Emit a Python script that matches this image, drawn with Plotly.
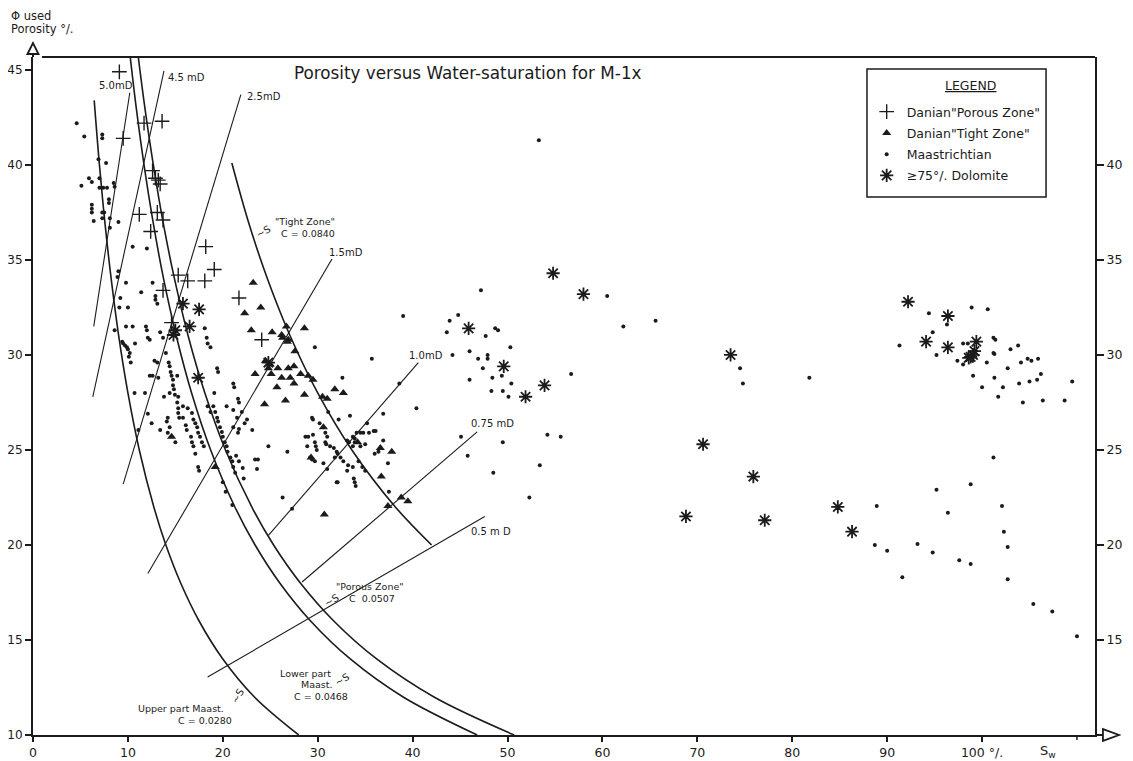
import plotly.graph_objects as go

# ---------------- data ----------------
porous_sw = [9.1, 9.5, 11.7, 13.6, 12.6, 12.9, 13.2, 13.4, 11.2, 13.1, 13.7, 12.4, 18.2, 19.1,
             15.3, 16.3, 18.1, 13.7, 21.7, 14.6, 24.1]
porous_phi = [44.9, 41.4, 42.2, 42.3, 39.7, 39.3, 39.2, 39.0, 37.4, 37.5, 37.1, 36.5, 35.7, 34.5,
              34.2, 33.9, 33.9, 33.4, 33.0, 31.7, 30.8]

tight_sw = [23.2, 24.0, 22.3, 23.0, 25.2, 26.7, 26.2, 28.6, 26.9, 27.6, 24.5, 25.0, 24.8, 25.8,
            26.9, 27.5, 23.4, 25.1, 26.2, 27.1, 27.5, 28.2, 29.0, 29.5, 25.7, 28.6, 26.6, 24.4,
            30.5, 31.0, 31.8, 32.7, 30.6, 34.2, 29.3, 19.2, 36.6, 37.8, 36.7, 38.8, 39.5, 30.7,
            37.4, 14.6, 26.3, 26.8]
tight_phi = [33.8, 32.5, 32.2, 31.3, 31.2, 31.5, 31.05, 31.4, 30.8, 30.2, 29.7, 29.5, 29.3, 29.3,
             29.3, 29.4, 29.0, 29.0, 28.8, 28.8, 28.5, 29.0, 28.9, 28.7, 28.3, 27.9, 27.6, 27.4,
             27.8, 27.7, 28.2, 28.0, 26.2, 25.4, 24.6, 24.1, 25.1, 24.9, 23.6, 22.5, 22.3, 21.6,
             22.05, 25.7, 30.9, 30.7]

dolo_sw = [15.8, 17.5, 16.5, 15.0, 14.8, 17.4, 24.8, 54.8, 58.0, 45.9, 49.6, 53.9, 51.9, 68.8,
           70.6, 73.5, 75.9, 77.1, 84.8, 86.3, 92.2, 96.4, 94.1, 96.4, 99.4, 99.2, 99.05, 98.8, 98.6]
dolo_phi = [32.7, 32.4, 31.5, 31.3, 31.05, 28.8, 29.6, 34.3, 33.2, 31.4, 29.4, 28.4, 27.8, 21.5,
            25.3, 30.0, 23.6, 21.3, 22.0, 20.7, 32.8, 32.05, 30.7, 30.4, 30.7, 30.2, 30.0, 29.9, 29.85]

maast_sw = [
    4.6, 5.4, 7.3, 7.3, 6.9, 7.7, 5.1, 5.9, 6.2, 7.0, 7.0, 7.4, 7.8, 8.5, 8.6, 6.2, 6.2, 6.2, 8.0, 8.0,
    7.3, 7.5, 6.4, 7.3, 8.1, 8.1, 9.0,
    10.5, 12.0, 9.0, 8.9, 9.8, 12.6, 11.4, 12.9, 12.9, 13.1, 9.2, 9.1, 10.0, 8.6, 9.8, 10.5, 11.9,
    12.0, 12.1, 12.3, 13.4, 13.7, 9.4, 9.5, 9.7, 9.9, 10.0, 10.2, 10.1, 10.3, 10.75, 14.0, 12.8, 13.1,
    14.3, 14.4, 14.5, 14.6, 14.75, 14.75, 14.85, 14.95, 15.3, 15.2, 15.3, 15.3, 15.4,
    12.3, 12.6, 13.2, 15.2, 19.4, 19.5, 18.1, 18.3, 18.4, 18.7, 21.1, 21.2, 10.7, 11.8, 13.8, 14.4,
    14.2, 14.1, 14.4, 13.4, 12.5, 11.1, 12.1, 14.2, 15.0, 15.8, 16.1, 16.2, 16.65, 16.75, 16.9, 17.1,
    17.4, 17.5,
    15.8, 16.3, 16.75, 16.9, 17.1, 17.3, 17.4, 17.6, 17.8, 18.0,
    19.0, 19.2, 19.4, 19.5, 19.7, 19.9, 20.0, 20.2, 20.4, 20.5, 20.8, 21.0, 21.1, 21.3,
    20.0, 20.3, 21.0, 21.4, 21.7, 22.1, 22.2, 21.7, 23.1, 22.55, 22.3, 19.1, 20.4, 21.1, 22.0, 21.5,
    18.4, 18.7, 21.6, 21.7, 21.1, 21.6, 24.8, 23.4, 23.7, 23.6, 26.8,
    29.7, 35.7, 32.6, 33.4, 29.4, 29.5, 30.2, 30.6, 30.8, 31.0, 31.1, 28.7, 29.0, 29.7, 29.8, 29.9,
    30.8, 30.9, 28.9, 29.2, 29.4, 29.7, 31.3, 31.7, 32.0, 32.1, 32.4, 33.1, 33.3, 34.1, 34.5, 34.8,
    33.7, 33.9, 33.9, 33.7, 34.5, 35.0, 31.8, 32.7, 33.2, 33.7, 34.3, 33.1, 33.8, 33.9, 31.0, 30.6,
    34.7, 35.0, 36.4, 32.2, 36.9, 40.4, 38.6, 39.0, 35.2, 35.4, 35.9, 36.1, 36.9, 36.0, 26.3, 27.3,
    32.0, 34.0, 37.5, 29.5, 37.4, 32.1,
    47.2, 44.8, 43.9, 43.6, 44.2, 46.0, 46.9, 47.9, 47.9, 48.7, 49.0, 47.7, 50.3, 47.4, 48.4, 49.4,
    46.0, 50.4, 48.3, 49.5, 50.1, 45.8, 45.1, 49.5, 48.5, 53.4, 52.3, 54.2, 55.6, 56.7, 60.5, 62.2,
    65.6, 53.3, 74.5, 74.8, 81.8,
    94.4, 98.9, 100.6, 96.3, 94.8, 91.3, 95.2, 98.0, 98.5, 101.2, 101.4, 101.2, 101.3, 97.4, 98.0,
    100.5, 103.0, 103.8, 102.7, 104.1, 104.8, 105.2, 105.9, 99.05, 101.3, 106.2, 100.0, 102.2, 103.9,
    105.0, 105.8, 109.5, 101.7, 104.3, 106.4, 108.7, 101.2, 98.8, 95.2, 88.9, 96.4, 102.1, 102.3,
    102.7, 88.7, 90.0, 93.2, 94.8, 97.6, 98.8, 91.6, 102.7, 105.4, 107.4, 110.0]
maast_phi = [
    42.2, 41.5, 41.6, 41.4, 40.3, 40.1, 38.9, 39.3, 39.1, 39.3, 38.8, 38.8, 38.8, 39.05, 38.85, 37.9,
    37.7, 37.5, 38.2, 38.0, 37.5, 37.5, 37.05, 37.2, 37.2, 36.7, 37.0,
    35.7, 35.6, 34.4, 34.1, 33.8, 33.8, 33.3, 33.1, 32.9, 32.7, 33.0, 32.5, 32.5, 31.3, 31.5, 31.5,
    31.5, 31.3, 30.9, 30.8, 31.2, 30.9, 30.7, 30.6, 30.5, 30.4, 30.3, 30.1, 29.9, 29.6, 30.6, 30.1,
    29.7, 29.6,
    29.6, 29.4, 29.1, 28.9, 28.7, 28.4, 28.2, 27.9, 27.8, 27.5, 27.2, 26.95, 26.7,
    28.9, 28.9, 28.8, 28.9, 29.3, 29.1, 31.4, 30.9, 30.6, 30.4, 28.5, 28.3, 28.0, 28.0, 27.8, 28.0,
    26.7, 26.5, 26.2, 26.05, 26.4, 26.05, 26.9, 25.9, 25.4, 26.7, 26.3, 26.05, 25.7, 25.4, 25.2, 24.8,
    24.1, 23.9,
    27.3, 27.2, 26.95, 26.6, 26.4, 26.2, 25.9, 25.7, 25.4, 25.2,
    27.3, 27.0, 26.7, 26.5, 26.2, 25.95, 25.7, 25.4, 25.2, 24.9, 24.6, 24.4, 24.1, 23.8,
    23.3, 22.8, 22.1, 24.7, 24.4, 24.05, 23.5, 26.1, 26.05, 26.6, 26.4, 28.0, 27.3, 27.1, 27.0, 26.7,
    27.3, 27.0, 27.7, 27.5, 26.2, 25.9, 25.2, 24.5, 24.5, 24.0, 24.9,
    30.4, 29.8, 28.8, 26.8, 26.7, 26.6, 26.4, 26.2, 25.9, 25.7, 27.0, 25.7, 25.7, 25.4, 25.2, 25.0,
    25.4, 25.3, 25.2, 24.6, 24.5, 24.4, 25.2, 25.1, 24.9, 24.8, 24.6, 25.5, 25.4, 25.9, 25.9, 25.9,
    25.7, 25.6, 25.4, 25.2, 25.2, 25.3, 24.6, 24.4, 24.2, 24.1, 24.4, 23.9, 23.5, 23.3, 24.0, 24.3,
    24.1, 23.9, 24.9, 26.6, 26.9, 27.2, 28.5, 32.05, 26.4, 25.9, 26.0, 26.0, 25.5, 24.8, 22.5, 21.9,
    23.3, 23.1, 22.8, 25.8, 24.3, 23.3,
    33.4, 32.1, 31.8, 31.2, 30.0, 30.2, 29.8, 30.0, 29.8, 31.4, 31.3, 31.0, 30.4, 29.3, 28.8, 28.9,
    28.7, 28.5, 28.1, 28.1, 27.8, 24.7, 25.7, 25.4, 23.8, 24.2, 22.5, 25.8, 25.7, 29.0, 33.1, 31.5,
    31.8, 41.3, 29.3, 28.5, 28.8,
    32.2, 32.5, 32.4, 31.6, 31.2, 30.5, 30.0, 30.6, 30.6, 30.9, 30.8, 30.1, 30.05, 29.7, 29.5,
    29.6, 30.3, 30.5, 29.3, 29.6, 29.8, 29.7, 29.8, 28.9, 28.8, 29.0, 28.3, 28.3, 28.5,
    28.6, 28.7, 28.6, 27.8, 27.5, 27.6, 27.6, 24.6, 23.2, 22.9, 22.05, 21.7, 22.05, 20.7,
    19.9, 20.0, 19.7, 20.05, 19.6, 19.2, 19.0, 18.3, 18.2, 16.9, 16.5, 15.2]

# saturation-porosity curves
upper_sw = [6.45, 7.0, 7.57, 8.24, 9.03, 10.0, 11.2, 12.73, 14.0, 15.56, 17.5, 20.0, 23.33, 28.0]
upper_phi = [43.4, 40, 37, 34, 31, 28, 25, 22, 20, 18, 16, 14, 12, 10]
lower_sw = [10.24, 10.88, 11.7, 12.65, 13.76, 15.1, 16.71, 18.72, 21.27, 23.4, 26.0, 29.25, 33.43, 39.0, 46.8]
lower_phi = [45.7, 43, 40, 37, 34, 31, 28, 25, 22, 20, 18, 16, 14, 12, 10]
porzone_sw = [11.09, 11.79, 12.68, 13.7, 14.91, 16.35, 18.11, 20.28, 23.05, 25.35, 28.17, 31.69, 36.21, 42.25, 50.7]
porzone_phi = [45.7, 43, 40, 37, 34, 31, 28, 25, 22, 20, 18, 16, 14, 12, 10]
tightzone_sw = [20.95, 22.7, 24.71, 27.1, 30.0, 33.6, 38.18, 42.0]
tightzone_phi = [40.1, 37, 34, 31, 28, 25, 22, 20]

# permeability lines: labels and end points
perm_labels = ["5.0mD", "4.5 mD", "2.5mD", "1.5mD", "1.0mD", "0.75 mD", "0.5 m D"]
perm_sw0 = [10.2, 13.8, 21.9, 31.5, 40.6, 46.8, 47.6]
perm_phi0 = [43.8, 44.95, 43.7, 35.05, 29.6, 25.95, 21.5]
perm_sw1 = [6.4, 6.3, 9.5, 12.1, 24.8, 28.35, 18.4]
perm_phi1 = [31.5, 27.8, 23.2, 18.5, 20.5, 18.05, 13.05]
perm_lab_sw = [6.7, 14.0, 22.3, 31.0, 39.4, 45.9, 45.9]
perm_lab_phi = [44.2, 44.6, 43.6, 35.4, 29.95, 26.4, 20.7]

x_ticks = [0, 10, 20, 30, 40, 50, 60, 70, 80, 90, 100]
x_ticktext = ["0", "10", "20", "30", "40", "50", "60", "70", "80", "90", "100 °/."]
x_extra_tick = 110
y_ticks_left = [10, 15, 20, 25, 30, 35, 40, 45]
y_ticks_right = [15, 20, 25, 30, 35, 40]

# ---------------- figure ----------------
ink = "#1b1b1b"
FONT = "DejaVu Sans"
XMAX, YMIN, YMAX = 111.9, 10, 45.68

fig = go.Figure()

for sw, phi in [(upper_sw, upper_phi), (lower_sw, lower_phi),
                (porzone_sw, porzone_phi), (tightzone_sw, tightzone_phi)]:
    fig.add_trace(go.Scatter(x=sw, y=phi, mode="lines", showlegend=False, hoverinfo="skip",
                             line=dict(color=ink, width=1.6, shape="spline", smoothing=1.0)))

for i in range(len(perm_labels)):
    fig.add_trace(go.Scatter(x=[perm_sw0[i], perm_sw1[i]], y=[perm_phi0[i], perm_phi1[i]],
                             mode="lines", showlegend=False, hoverinfo="skip",
                             line=dict(color=ink, width=1.1)))

fig.add_trace(go.Scatter(x=porous_sw, y=porous_phi, mode="markers", name='Danian"Porous Zone"',
                         legendgroup="a",
                         marker=dict(symbol="cross-thin-open", size=10.5, color=ink,
                                     line=dict(width=1.4, color=ink))))
fig.add_trace(go.Scatter(x=tight_sw, y=tight_phi, mode="markers", name='Danian"Tight Zone"',
                         legendgroup="b",
                         marker=dict(symbol="triangle-up", size=8, color=ink)))
fig.add_trace(go.Scatter(x=maast_sw, y=maast_phi, mode="markers", name="Maastrichtian",
                         legendgroup="c",
                         marker=dict(symbol="circle", size=4, color=ink)))
fig.add_trace(go.Scatter(x=dolo_sw, y=dolo_phi, mode="markers", name="≥75°/. Dolomite",
                         legendgroup="d",
                         marker=dict(symbol="asterisk-open", size=11, color=ink,
                                     line=dict(width=1.8, color=ink))))
# invisible trace so the right-hand axis is bound to data
fig.add_trace(go.Scatter(x=[0], y=[YMIN], yaxis="y2", mode="markers", showlegend=False,
                         hoverinfo="skip", marker=dict(opacity=0)))

annotations = []
for i, lab in enumerate(perm_labels):
    annotations.append(dict(x=perm_lab_sw[i], y=perm_lab_phi[i], xref="x", yref="y", text=lab,
                            showarrow=False, xanchor="left", yanchor="middle",
                            font=dict(size=10, color=ink, family=FONT)))

def note(x, y, text, size=10, xanchor="center", xref="x", yref="y", angle=0):
    annotations.append(dict(x=x, y=y, xref=xref, yref=yref, text=text, showarrow=False,
                            xanchor=xanchor, yanchor="middle", textangle=angle,
                            font=dict(size=size, color=ink, family=FONT)))

note(45.8, 44.84, "Porosity versus Water-saturation for M-1x", size=16.8)
note(28.7, 37.0, '"Tight Zone"', size=9.5)
note(29.0, 36.37, "C = 0.0840", size=9.5)
note(24.3, 36.5, "~S", size=10, angle=-30)
note(35.5, 17.8, '"Porous Zone"', size=9.5)
note(35.7, 17.16, "C  0.0507", size=9.5)
note(31.4, 17.1, "~S", size=10, angle=-30)
note(28.7, 13.26, "Lower part", size=9.5)
note(29.9, 12.68, "Maast.", size=9.5)
note(30.3, 12.05, "C = 0.0468", size=9.5)
note(32.6, 12.9, "~S", size=10, angle=-30)
note(15.6, 11.42, "Upper part Maast.", size=9.5)
note(18.1, 10.74, "C = 0.0280", size=9.5)
note(21.5, 12.05, "~S", size=10, angle=-60)
note(106.95, -0.024, "S<sub>w</sub>", size=13, yref="paper")
note(-0.0226, 1.0605, "Φ used", size=11.5, xanchor="left", xref="paper", yref="paper")
note(-0.0226, 1.0413, "Porosity °/.", size=11.5, xanchor="left", xref="paper", yref="paper")
# legend heading (box drawn as a shape)
note(0.8832, 0.9587, "<u>LEGEND</u>", size=12.5, xref="paper", yref="paper")

shapes = [
    # top frame line
    dict(type="line", xref="paper", yref="paper", x0=0.0085, x1=1, y0=1, y1=1,
         line=dict(color=ink, width=2)),
    # legend frame
    dict(type="rect", xref="paper", yref="paper", x0=0.7853, x1=0.9539, y0=0.7935, y1=0.9823,
         line=dict(color=ink, width=1.5), fillcolor="rgba(0,0,0,0)"),
    # extra tick at 110 (no label)
    dict(type="line", xref="paper", yref="paper", x0=x_extra_tick / XMAX, x1=x_extra_tick / XMAX,
         y0=0, y1=-0.0074, line=dict(color=ink, width=1.5)),
    # x axis extension + arrow
    dict(type="line", xref="paper", yref="paper", x0=1, x1=1.0226, y0=0, y1=0,
         line=dict(color=ink, width=2)),
    dict(type="path", xref="paper", yref="paper",
         path="M 1.0075 -0.0088 L 1.0226 0 L 1.0075 0.0088 Z",
         line=dict(color=ink, width=1.8), fillcolor="white"),
    # y axis extension + arrow
    dict(type="line", xref="paper", yref="paper", x0=0, x1=0, y0=1, y1=1.0206,
         line=dict(color=ink, width=2)),
    dict(type="path", xref="paper", yref="paper",
         path="M -0.0052 1.0044 L 0 1.0206 L 0.0052 1.0044 Z",
         line=dict(color=ink, width=1.8), fillcolor="white"),
]

axis_common = dict(showgrid=False, zeroline=False, showline=True, linecolor=ink, linewidth=2,
                   ticks="outside", tickcolor=ink, tickwidth=1.5, automargin=False)
tickf = dict(size=12.5, color=ink, family=FONT)

# the page adds an 8 px body margin, so the figure is 8 px smaller and margins shifted
fig.update_layout(
    width=1125, height=753,
    margin=dict(l=25, r=38, t=49, b=26, autoexpand=False),
    paper_bgcolor="white", plot_bgcolor="white",
    font=dict(family=FONT, color=ink),
    xaxis=dict(range=[0, XMAX], tickvals=x_ticks, ticktext=x_ticktext, ticklen=5,
               tickfont=tickf, **axis_common),
    yaxis=dict(range=[YMIN, YMAX], tickvals=y_ticks_left, ticklen=6,
               tickfont=dict(size=12, color=ink, family=FONT), **axis_common),
    yaxis2=dict(range=[YMIN, YMAX], tickvals=y_ticks_right, ticklen=7, overlaying="y",
                side="right", tickfont=tickf, **axis_common),
    legend=dict(x=0.785, y=0.941, xanchor="left", yanchor="top", bgcolor="rgba(0,0,0,0)",
                borderwidth=0, tracegroupgap=2,
                font=dict(size=12.5, color=ink, family=FONT)),
    annotations=annotations,
    shapes=shapes,
    showlegend=True,
)

fig.write_html("out.html")
